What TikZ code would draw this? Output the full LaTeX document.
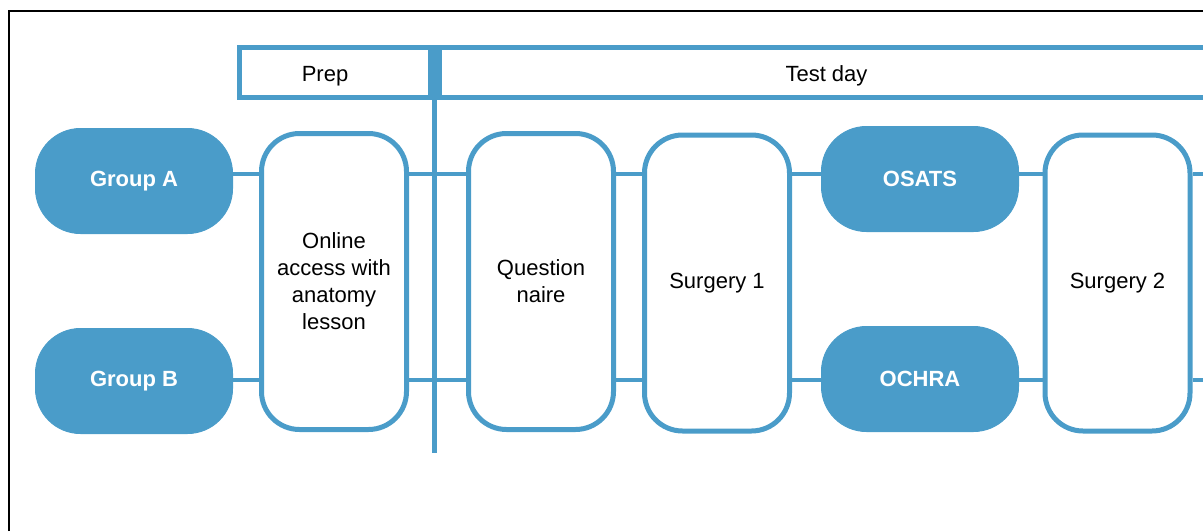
\documentclass[tikz,border=0pt]{standalone}
\usepackage{fontspec}
\setmainfont{Liberation Sans}
\definecolor{blu}{RGB}{74,156,201}
\tikzset{
  filledbox/.style={fill=blu, draw=blu, line width=1pt, rounded corners=45pt, minimum width=197pt, minimum height=105pt, inner sep=0pt, text=white, font=\fontsize{22}{27}\selectfont\bfseries},
  outbox/.style={draw=blu, fill=white, line width=5pt, rounded corners=38pt, minimum width=145pt, minimum height=296pt, inner sep=0pt, align=center, font=\fontsize{22}{27}\selectfont},
  headbox/.style={draw=blu, line width=5pt, minimum height=50pt, inner sep=0pt, text height=21pt, text depth=3pt, font=\fontsize{22}{27}\selectfont},
  conn/.style={draw=blu, line width=4pt},
  divider/.style={draw=blu, line width=5pt},
  frame/.style={draw=black, line width=2pt}
}
\begin{document}
\begin{tikzpicture}[x=1pt,y=-1pt]
\useasboundingbox (0,0) rectangle (1203,531);
% frame
\coordinate (fbl) at (9,531);
\coordinate (ftl) at (9,11);
\coordinate (ftr) at (1203,11);
\draw[frame] (fbl) -- (ftl) -- (ftr);
% row coordinates
\coordinate (rowA) at (0,174);
\coordinate (rowB) at (0,380);
\coordinate (endA) at (1210,174);
\coordinate (endB) at (1210,380);
% boxes
\node[outbox] (on) at (334,281.5) {Online\\access with\\anatomy\\lesson};
\node[outbox] (qn) at (541,281.5) {Question\\naire};
\node[outbox] (s1) at (717,283) {Surgery 1};
\node[outbox] (s2) at (1117.5,283) {Surgery 2};
\node[filledbox] (ga) at (134,181) {Group A};
\node[filledbox] (gb) at (134,381) {Group B};
\node[filledbox] (os) at (920,179) {OSATS};
\node[filledbox] (oc) at (920,379) {OCHRA};
% header
\node[headbox, minimum width=191pt] (prep) at (335,72.5) {\hspace*{-20pt}Prep};
\node[headbox, minimum width=774pt] (td) at (826.5,72.5) {Test day};
% divider
\coordinate (dtop) at (434.5,45);
\coordinate (dbot) at (434.5,453);
\draw[divider] (dtop) -- (dbot);
% connectors row A
\draw[conn] (ga.east |- rowA) -- (on.west |- rowA);
\draw[conn] (on.east |- rowA) -- (qn.west |- rowA);
\draw[conn] (qn.east |- rowA) -- (s1.west |- rowA);
\draw[conn] (s1.east |- rowA) -- (os.west |- rowA);
\draw[conn] (os.east |- rowA) -- (s2.west |- rowA);
\draw[conn] (s2.east |- rowA) -- (endA);
% connectors row B
\draw[conn] (gb.east |- rowB) -- (on.west |- rowB);
\draw[conn] (on.east |- rowB) -- (qn.west |- rowB);
\draw[conn] (qn.east |- rowB) -- (s1.west |- rowB);
\draw[conn] (s1.east |- rowB) -- (oc.west |- rowB);
\draw[conn] (oc.east |- rowB) -- (s2.west |- rowB);
\draw[conn] (s2.east |- rowB) -- (endB);
\end{tikzpicture}
\end{document}
